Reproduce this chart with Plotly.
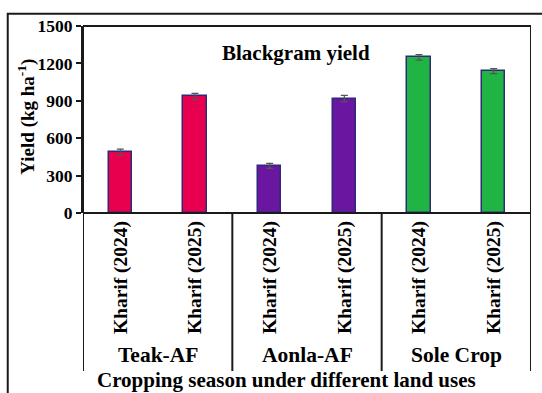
import plotly.graph_objects as go

# Blackgram yield by land use and kharif season
land_uses = ["Teak-AF", "Aonla-AF", "Sole Crop"]
seasons = ["Kharif (2024)", "Kharif (2025)"]
categories = [f"{lu}|{s}" for lu in land_uses for s in seasons]
season_labels = [s for lu in land_uses for s in seasons]

yield_values = [488, 935, 378, 918, 1248, 1138]
yield_errors = [25, 25, 20, 25, 22, 20]
bar_colors = ["#E8004F", "#E8004F", "#6A16A0", "#6A16A0", "#20B445", "#20B445"]

y_ticks = [0, 300, 600, 900, 1200, 1500]

FONT = "Liberation Serif"
INK = "#1a1a1a"

fig = go.Figure()
fig.add_trace(go.Bar(
    x=list(range(len(categories))),
    y=yield_values,
    width=0.31,
    marker=dict(color=bar_colors, line=dict(color="#2E2A78", width=1.5)),
    error_y=dict(type="data", array=yield_errors, color="#555555",
                 thickness=1.2, width=3.5),
    showlegend=False,
))

# plot-area geometry in paper units (plot is 448 x 187 px)
below = -0.845  # depth of the category band under the axis

shapes = []
# plot frame top
shapes.append(dict(type="line", xref="paper", yref="paper", x0=0, x1=1, y0=1, y1=1,
                   line=dict(color=INK, width=2)))
# frame sides and group separators, running down into the category band
for xv in [-0.5, 1.5, 3.5, 5.5]:
    top = 1 if xv in (-0.5, 5.5) else 0
    shapes.append(dict(type="line", xref="x", yref="paper", x0=xv, x1=xv,
                       y0=below, y1=top, line=dict(color=INK, width=2)))
# zero line / x axis
shapes.append(dict(type="line", xref="paper", yref="paper", x0=0, x1=1, y0=0, y1=0,
                   line=dict(color=INK, width=2)))
# outer figure border
shapes.append(dict(type="rect", xref="paper", yref="paper",
                   x0=-0.168, x1=1.2, y0=-1.2, y1=1.066,
                   line=dict(color=INK, width=2), fillcolor="rgba(0,0,0,0)"))

annotations = []
for i, lu in enumerate(land_uses):
    annotations.append(dict(x=2 * i + 0.5, y=-0.762, xref="x", yref="paper",
                            text=f"<b>{lu}</b>", showarrow=False, xanchor="center", yanchor="middle",
                            font=dict(family=FONT, size=21.5, color="black")))
annotations.append(dict(x=0.455, y=-0.895, xref="paper", yref="paper",
                        text="<b>Cropping season under different land uses</b>", showarrow=False,
                        xanchor="center", yanchor="middle",
                        font=dict(family=FONT, size=21, color="black")))
annotations.append(dict(x=0.475, y=0.858, xref="paper", yref="paper",
                        text="<b>Blackgram yield</b>", showarrow=False,
                        xanchor="center", yanchor="middle",
                        font=dict(family=FONT, size=21, color="black")))
annotations.append(dict(x=-0.125, y=0.515, xref="paper", yref="paper",
                        text="<b>Yield (kg ha<sup>-1</sup>)</b>", showarrow=False, textangle=-90,
                        xanchor="center", yanchor="middle",
                        font=dict(family=FONT, size=19, color="black")))

fig.update_layout(
    width=542, height=393,
    margin=dict(l=83, r=11, t=26, b=180),
    paper_bgcolor="white", plot_bgcolor="white",
    bargap=0,
    font=dict(family=FONT, color="black"),
    xaxis=dict(
        range=[-0.5, 5.5],
        tickmode="array", tickvals=list(range(len(categories))),
        ticktext=[f"<b>{s}</b>" for s in season_labels],
        tickangle=-90, ticks="", ticklabelstandoff=3,
        showline=False, showgrid=False, zeroline=False,
        tickfont=dict(family=FONT, size=19.5, color="black"),
    ),
    yaxis=dict(
        range=[0, 1500],
        tickmode="array", tickvals=y_ticks,
        ticktext=[f"<b>{v}</b>" for v in y_ticks],
        ticks="outside", ticklen=5, tickwidth=1.5, tickcolor=INK,
        showline=True, linecolor=INK, linewidth=2,
        showgrid=False, zeroline=False,
        tickfont=dict(family=FONT, size=17.5, color="black"),
    ),
    shapes=shapes,
    annotations=annotations,
)

fig.write_html("out.html")
